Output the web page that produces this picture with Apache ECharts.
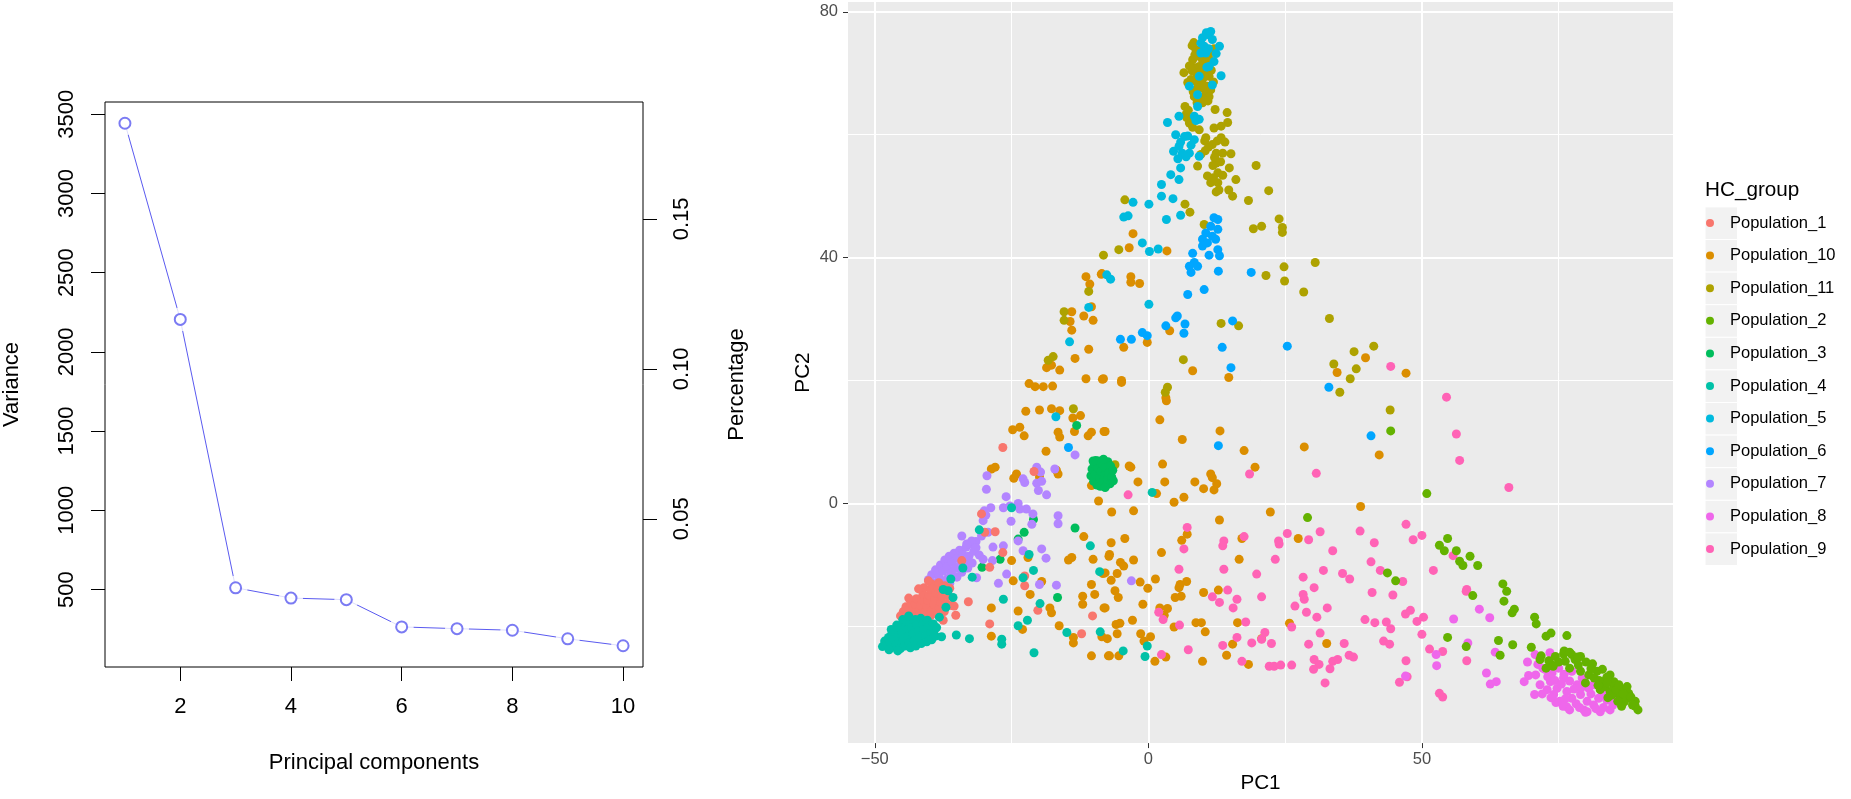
<!DOCTYPE html>
<html>
<head>
<meta charset="utf-8">
<title>PCA</title>
<script src="https://cdn.jsdelivr.net/npm/echarts/dist/echarts.min.js"></script>
<style>
html,body{margin:0;padding:0;background:#fff;}
#main{width:1851px;height:799px;}
</style>
</head>
<body>
<div id="main"></div>
<script>
var FONT = '"Liberation Sans", Arial, Helvetica, sans-serif';

// scree plot
var pcIndex = [1, 2, 3, 4, 5, 6, 7, 8, 9, 10];
var variance = [3443, 2205, 511, 446, 436, 264, 253, 243, 189, 145];
var totalVariance = 18930;
var pcTicks = [2, 4, 6, 8, 10];
var varianceTicks = [500, 1000, 1500, 2000, 2500, 3000, 3500];
var percentTicks = [0.05, 0.10, 0.15];

// scatter axes
var pc1Major = [-50, 0, 50];
var pc1Minor = [-25, 25, 75];
var pc2Major = [0, 40, 80];
var pc2Minor = [-20, 20, 60];

var popNames = ['Population_1','Population_10','Population_11','Population_2','Population_3','Population_4',
  'Population_5','Population_6','Population_7','Population_8','Population_9'];
var popColors = ['#F8766D','#DB8E00','#AEA200','#64B200','#00BD5C','#00C1A7','#00BADE','#00A6FF','#B385FF','#EF67EB','#FF63B6'];

// PC1, PC2 per group
var pop1 = [[-44.8,-17.6],[-44.3,-16.8],[-44.0,-18.0],[-43.7,-17.1],[-43.4,-16.2],[-43.2,-18.2],[-42.9,-17.3],[-42.6,-16.4],[-42.4,-15.5],[-42.2,-18.4],[-41.9,-17.5],[-41.6,-16.6],[-41.4,-15.7],[-41.2,-14.8],[-41.0,-13.7],[-41.1,-18.5],[-40.8,-17.6],[-40.5,-16.7],[-40.3,-15.8],[-40.1,-14.9],[-39.8,-14.0],[-39.6,-13.1],[-39.8,-18.3],[-39.5,-17.3],[-39.2,-16.4],[-39.0,-15.5],[-38.8,-14.6],[-38.5,-13.7],[-38.3,-12.9],[-38.5,-18.0],[-38.2,-17.0],[-37.9,-16.1],[-37.7,-15.2],[-37.4,-14.3],[-37.2,-13.4],[-37.3,-17.6],[-36.9,-16.3],[-36.6,-15.0],[-36.3,-13.8],[-36.0,-16.6],[-43.8,-15.4],[-42.0,-13.9],[-40.2,-12.6],[-45.3,-18.3],[-44.5,-18.8],[-42.7,-19.0],
  [-26.6,9.1],[-20.9,5.2],[-30.5,-1.7],[-29.9,-4.7],[-28.0,-4.6],[-26.6,-8.0],[-29.0,-10.4],[-32.9,-16.0],[-35.2,-18.2],[-37.5,-19.0],[-35.5,-16.7],[-29.0,-19.6],[-22.6,-11.8],[-20.2,-17.4],[-22.6,-13.4],[-12.2,-21.2],[-10.2,-18.3],[-34.1,-9.3]];

var pop10 = [[-8.5,37.4],[-11.4,36.9],[-10.7,35.7],[-10.4,32.0],[-11.8,30.5],[-10.1,29.8],[-14.0,31.2],[-14.3,29.6],[-14.0,28.2],[-10.9,25.1],[-13.4,23.6],[-18.6,22.1],[-16.2,21.7],[-17.7,22.5],[-21.8,19.5],[-20.7,19.0],[-19.2,19.0],[-17.5,19.1],[-11.4,20.3],[-8.2,20.3],
  [-2.8,43.9],[-3.5,41.6],[3.4,41.1],[-8.6,37.3],[-3.2,36.9],[-3.2,36.0],[-1.6,35.8],[3.9,28.1],[-0.2,26.2],[-4.5,25.4],[8.1,21.6],[14.7,20.5],[-8.4,20.2],[-4.9,19.7],[39.7,23.7],[34.5,21.3],[47.1,21.2],[3.2,17.2],
  [-22.4,15.0],[-19.9,15.2],[-17.7,15.4],[-16.2,15.1],[-13.8,13.9],[-12.4,14.3],[-24.8,12.0],[-23.5,12.4],[-22.7,11.0],[-16.5,11.6],[-16.2,10.8],[-13.5,11.7],[-11.0,11.0],[-10.4,11.6],[-7.9,11.7],[-18.7,8.5],[-19.9,4.3],[-16.8,5.4],[-16.5,4.8],[-28.7,5.6],[-28.0,5.9],[-24.6,4.1],[-24.1,4.8],[-10.4,2.9],[-9.1,0.4],
  [-22.0,-8.8],[-11.8,-5.4],[-14.0,-8.8],[-14.6,-9.2],[-25.0,-9.3],[-10.1,-9.1],[-24.7,-12.6],[-23.8,-17.5],[-28.7,-17.0],[-28.7,-21.6],[-23.0,-20.5],[-21.6,-14.8],[-19.5,-12.7],[-18.0,-17.0],[-17.7,-17.8],[-16.3,-19.9],[-13.7,-21.8],[-13.7,-22.7],[-10.4,-24.8],[-7.3,-24.8],[-12.0,-15.1],[-12.0,-16.4],[-10.4,-13.2],[-9.8,-14.8],[-7.9,-17.0],[-7.9,-11.3],[-7.1,-8.3],[-8.5,-21.7],
  [3.3,16.7],[2.1,13.6],[6.2,10.4],[13.1,11.8],[17.5,8.6],[28.5,9.2],[-4.9,20.0],[-8.1,11.7],[-3.5,6.1],[-3.2,5.9],[2.6,6.4],[-1.9,3.5],[3.0,3.5],[19.5,5.9],[8.5,3.5],[10.1,2.4],[11.4,4.8],[11.7,4.2],[12.5,3.2],[12.0,2.2],[1.5,1.6],[4.7,0.2],[6.5,1.0],[42.2,7.9],[38.8,-0.5],[22.3,-1.4],[-6.7,-1.4],[-2.7,-1.2],[13.0,-2.7],[7.1,-5.0],[6.1,-6.0],[2.4,-8.0],[17.1,-5.7],[16.6,-9.1],[27.4,-5.7],
  [-6.8,-6.4],[-4.3,-5.7],[-7.2,-8.6],[-2.7,-9.2],[-5.1,-9.6],[-4.5,-10.2],[-8.3,-11.4],[-6.8,-12.5],[-5.7,-11.4],[-1.5,-12.8],[-0.1,-13.8],[1.3,-12.3],[-6.1,-14.2],[-5.5,-15.3],[-1.0,-16.4],[-8.1,-17.0],[-2.9,-19.0],[-5.9,-19.7],[-5.2,-19.5],[-5.7,-21.2],[-7.5,-22.0],[-7.1,-24.8],[-5.4,-24.8],[-1.4,-21.2],[-0.8,-22.4],[0.4,-21.7],[1.2,-25.7],[3.2,-25.0],[5.8,-13.2],[5.6,-13.7],[7.0,-12.7],[6.0,-15.1],[4.9,-15.3],[2.1,-17.0],[2.9,-18.2],[3.5,-17.1],[4.7,-20.1],[10.1,-14.5],[12.8,-14.1],[8.7,-19.4],[9.7,-19.4],[10.4,-20.9],[9.9,-25.7],[14.3,-24.7],[15.4,-22.9],[16.3,-19.4],[20.7,-22.0],[18.3,-26.2],[25.8,-19.5],[32.6,-22.8]];

var pop11 = [[8.7,73.8],[8.1,72.2],[9.3,71.1],[6.5,70.1],[10.5,70.6],[7.8,69.0],[9.9,69.0],[11.1,69.5],[7.2,68.5],[8.7,67.3],[10.5,66.8],[9.3,65.7],[11.1,66.2],[6.7,64.6],[6.9,63.3],[7.5,61.9],[12.2,64.1],[14.4,63.6],[14.5,62.0],[12.0,61.1],[13.3,61.4],[9.3,60.8],[10.5,59.5],[11.7,58.4],[13.3,59.5],[9.6,56.8],[12.4,57.0],[13.6,57.0],[15.1,56.9],[12.4,55.4],[9.0,54.9],[14.8,54.6],[12.7,53.8],[16.0,52.7],[10.8,53.3],[11.4,52.2],[12.7,52.2],[12.4,50.7],[14.7,51.0],[15.4,50.0],[19.7,55.0],[22.0,50.9],[18.3,49.3],[6.7,48.7],[7.6,47.4],[10.2,45.4],[23.9,46.3],[19.2,44.7],[20.7,45.1],[24.5,44.9],[24.5,44.1],[-4.3,49.4],[-5.4,41.3],[-8.2,40.4],[24.8,38.5],[21.5,37.1],[24.9,36.2],[30.5,39.2],[28.4,34.4],[33.1,30.1],[13.3,29.3],[16.5,28.9],[37.6,24.7],[41.2,25.6],[33.9,22.7],[38.0,21.9],[36.9,20.3],[6.4,23.4],[3.5,18.9],[3.1,18.1],[35.0,18.1],[8.4,70.9],[9.9,72.2],[9.0,68.4],[10.8,67.9],[8.4,66.2],[9.9,65.2],[-10.9,34.5],[-15.4,31.2],[-15.4,29.8],[-18.3,23.3],[-17.4,23.9],[-13.7,15.4],[44.2,15.2],[-6.1,6.3],
  [8.0,74.5],[8.5,73.0],[9.0,72.8],[9.5,73.9],[10.0,72.0],[10.5,71.8],[11.0,72.6],[11.5,70.5],[7.5,71.2],[8.0,70.4],[8.8,70.0],[9.6,70.2],[10.3,69.5],[11.9,68.6],[8.4,68.8],[9.4,67.6],[10.1,68.0],[11.4,67.3],[8.2,67.0],[9.7,66.0],[10.9,65.5],[8.9,65.2],[12.0,74.0],[11.3,73.5],[8.3,75.0],
  [7.0,62.8],[7.8,62.4],[7.3,64.0],[8.1,61.2],[12.6,59.0],[11.0,58.0],[12.1,56.3],[10.4,57.4],[11.8,55.0],[13.2,55.6],[12.9,51.0],[11.9,53.0],[13.6,53.4],[14.0,58.8],[10.3,59.0]];

var pop2 = [[50.9,1.6],[54.7,-5.7],[53.2,-6.8],[54.1,-7.7],[56.3,-7.7],[56.9,-9.4],[57.5,-10.1],[58.8,-8.6],[60.2,-10.1],[43.7,-11.3],[45.2,-12.6],[59.3,-15.0],[64.8,-13.1],[65.5,-14.3],[65.0,-15.9],[66.5,-17.8],[66.9,-17.2],[70.6,-18.5],[70.9,-19.6],[72.7,-21.6],[73.6,-21.1],[76.5,-21.5],[54.7,-21.8],[58.1,-23.3],[64.0,-22.3],[66.6,-23.0],[64.3,-24.7],[70.0,-23.4],[71.8,-24.8],[71.6,-25.4],[72.7,-26.8],[73.8,-26.3],[75.9,-24.5],[77.4,-24.6],[79.0,-24.9],[81.2,-26.1],[76.2,-25.7],[78.6,-26.3],[80.5,-27.9],[82.0,-27.3],[82.9,-29.0],[84.4,-27.9],[85.1,-29.0],[86.3,-30.1],[87.5,-29.8],[87.8,-30.9],[89.0,-32.2],[89.0,-33.0],[87.5,-31.7],[86.3,-31.7],[84.4,-30.6],[83.5,-29.8],[82.6,-30.3],[85.7,-30.9],[79.9,-29.2],[85.1,-29.8],[83.8,-28.3],[79.0,-27.3],[44.3,11.8],[29.1,-2.3],
  [73.2,-25.6],[74.4,-24.9],[75.0,-25.8],[76.0,-24.0],[77.0,-24.2],[78.0,-25.4],[78.5,-25.0],[80.0,-25.8],[80.9,-26.9],[81.5,-28.4],[82.4,-28.8],[83.0,-27.0],[83.9,-29.2],[84.7,-31.2],[85.5,-30.3],[86.0,-29.5],[86.8,-31.0],[87.0,-32.3],[88.2,-31.5],[88.5,-32.8],[89.5,-33.6],[84.0,-31.6],[82.2,-29.6],[86.5,-33.0],[85.8,-32.2],[77.0,-26.8],[74.0,-26.5]];

var pop3 = [[-10.5,4.5],[-10.3,5.6],[-10.0,3.6],[-9.9,6.4],[-9.7,4.8],[-9.4,3.0],[-9.3,5.8],[-9.1,6.9],[-8.9,4.1],[-8.8,2.8],[-8.6,5.2],[-8.4,6.5],[-8.3,3.5],[-8.0,4.6],[-7.9,5.9],[-7.7,2.9],[-7.5,3.9],[-7.4,6.8],[-7.2,5.0],[-7.0,3.2],[-6.9,6.1],[-6.7,4.3],[-6.5,5.4],[-9.6,7.0],[-8.2,7.2],[-10.1,6.9],[-6.4,3.7],[-7.9,2.6],
  [-13.1,12.7],[-21.0,-2.6],[-13.4,-4.0],[-23.8,-5.8],[-27.1,-9.1],[-30.4,-10.4],[-16.6,-15.3],[-22.7,-4.7]];

var pop4 = [[-48.2,-22.4],[-47.8,-23.0],[-47.5,-21.8],[-47.2,-22.6],[-46.8,-23.4],[-46.9,-21.2],[-46.5,-22.1],[-46.2,-23.1],[-46.0,-20.6],[-45.8,-21.6],[-45.6,-22.6],[-45.3,-23.6],[-45.2,-20.0],[-45.0,-21.1],[-44.8,-22.2],[-44.5,-23.2],[-44.4,-19.6],[-44.2,-20.6],[-44.0,-21.7],[-43.7,-22.7],[-43.5,-23.5],[-43.6,-19.2],[-43.3,-20.2],[-43.0,-21.2],[-42.8,-22.3],[-42.5,-23.2],[-42.6,-18.9],[-42.3,-19.8],[-42.0,-20.8],[-41.8,-21.8],[-41.5,-22.8],[-41.6,-18.7],[-41.2,-19.6],[-41.0,-20.5],[-40.7,-21.5],[-40.5,-22.5],[-40.4,-19.0],[-40.0,-20.0],[-39.8,-21.1],[-39.6,-22.2],[-39.3,-19.6],[-39.1,-20.6],[-38.9,-21.6],[-47.0,-20.5],[-46.0,-19.8],[-44.9,-18.9],[-43.8,-18.3],[-48.6,-23.3],[-47.4,-23.8],[-45.8,-24.0],
  [-36.1,-12.3],[-36.6,-14.2],[-35.7,-15.3],[-37.0,-16.9],[-38.2,-18.5],[-38.7,-20.2],[-37.8,-21.7],[-35.1,-21.4],[-32.7,-22.0],[-26.5,-15.6],[-22.9,-12.1],[-21.0,-10.9],[-19.8,-16.3],[-22.1,-19.0],[-23.8,-19.9],[-26.8,-22.1],[-26.8,-22.9],[-20.9,-24.3],[-14.9,-21.0],[-8.8,-20.9],[-8.9,-11.1],[-25.0,-0.7],[-30.9,-4.3],[-21.8,-8.3],[-10.6,-6.9],[-4.6,-24.0],[-0.2,-23.2],[-0.6,-24.9],[0.7,1.8],[-33.9,-10.5],[-32.2,-12.0],[-37.5,-14.0]];

var pop5 = [[10.8,76.3],[9.6,74.9],[11.7,75.5],[13.0,74.4],[10.5,73.3],[12.0,71.9],[9.6,73.3],[13.3,69.6],[11.7,68.1],[7.5,67.9],[9.0,64.6],[5.6,63.0],[3.5,62.0],[9.3,62.5],[5.0,60.0],[7.2,59.8],[8.4,59.2],[5.6,58.1],[6.2,57.0],[7.5,57.0],[9.3,56.5],[5.9,54.6],[4.1,53.5],[5.6,52.7],[2.4,51.9],[2.4,50.0],[4.5,49.6],[0.1,48.7],[-2.8,49.0],[3.3,46.2],[5.9,46.9],[-4.5,46.6],[-3.7,46.8],[0.1,32.4],[-6.9,36.5],[1.8,41.4],[0.2,41.0],[-1.1,42.4],[10.2,74.4],[11.1,71.1],[9.3,69.5],[8.4,63.0],[-7.6,37.2],[-10.9,31.9],[-14.4,26.3],[-16.9,14.1],
  [10.6,76.6],[11.4,76.8],[11.0,74.0],[9.9,75.8],[12.4,73.2],[10.7,71.0],[9.0,66.5],[8.7,62.3],[6.6,59.7],[5.9,58.8],[7.8,58.3],[6.9,56.4],[5.4,56.1],[4.6,57.3]];

var pop6 = [[12.0,46.5],[12.7,46.2],[11.4,45.1],[12.7,44.6],[10.5,44.0],[11.7,43.5],[9.9,43.0],[10.8,42.4],[12.3,43.0],[9.9,41.9],[12.7,41.3],[13.0,40.3],[11.1,40.4],[8.1,40.7],[8.4,39.2],[7.5,38.6],[9.0,38.6],[7.8,37.6],[12.8,37.8],[18.8,37.6],[7.2,34.0],[10.2,34.8],[5.3,30.5],[5.0,30.2],[6.7,29.2],[6.5,27.7],[3.2,28.9],[-1.1,27.8],[-0.2,27.3],[-5.1,26.7],[-3.1,26.7],[13.5,25.4],[15.4,29.7],[25.4,25.6],[15.1,22.1],[33.0,18.9],[12.8,9.4],[40.7,11.0],[-14.6,9.1]];

var pop7 = [[-40.2,-12.4],[-39.6,-11.6],[-39.0,-12.9],[-38.9,-10.8],[-38.3,-11.9],[-38.0,-10.0],[-37.6,-12.6],[-37.5,-11.0],[-37.2,-9.2],[-36.8,-10.3],[-36.7,-12.2],[-36.4,-8.6],[-36.1,-11.4],[-35.9,-9.6],[-35.5,-8.1],[-35.3,-10.6],[-35.0,-12.0],[-34.9,-8.9],[-34.5,-7.6],[-34.4,-10.0],[-34.1,-11.2],[-33.9,-8.3],[-33.5,-9.4],[-33.3,-7.1],[-33.0,-10.5],[-32.8,-8.6],[-32.4,-6.6],[-32.2,-9.7],[-31.9,-7.8],[-31.5,-6.2],[-31.4,-12.1],[-30.9,-8.4],[-30.5,-5.3],[-36.3,-13.0],[-38.7,-13.5],[-34.1,-5.3],[-32.3,-6.1],[-33.2,-6.6],[-31.5,-7.2],
  [-13.4,7.9],[-20.4,5.9],[-19.7,5.1],[-17.1,5.6],[-29.5,4.5],[-29.6,2.3],[-22.9,4.0],[-22.6,3.4],[-20.4,3.3],[-19.5,3.6],[-20.1,2.1],[-18.6,1.4],[-26.0,1.1],[-26.5,-0.7],[-28.8,-0.7],[-30.0,-1.2],[-25.3,-0.4],[-23.8,0.0],[-23.5,-0.9],[-22.3,-0.9],[-25.1,-2.9],[-16.5,-2.0],[-16.5,-3.3],[-29.7,-1.9],[-30.2,-2.8],[-29.3,-4.7],[-21.3,-3.4],[-21.1,-1.7],[-28.4,-7.1],[-26.5,-6.9],[-23.8,-6.1],[-22.9,-7.7],[-19.5,-7.4],[-18.7,-8.9],[-28.5,-9.3],[-30.2,-9.1],[-25.9,-11.5],[-27.4,-13.0],[-19.9,-13.2],[-16.8,-13.3],[-3.1,-12.6]];

var pop8 = [[55.8,-18.8],[60.5,-17.2],[62.4,-18.6],[58.4,-22.7],[52.6,-24.6],[52.7,-26.4],[63.4,-24.2],[61.8,-27.6],[62.5,-29.4],[63.6,-29.0],[69.3,-25.8],[69.5,-28.0],[68.7,-29.0],[70.7,-24.6],[73.4,-24.3],[70.6,-31.1],[72.1,-26.8],[71.6,-29.5],[73.5,-29.0],[74.7,-30.1],[75.9,-28.4],[76.5,-30.6],[77.4,-31.7],[75.2,-32.2],[79.0,-31.1],[80.2,-32.2],[79.6,-33.6],[81.4,-32.8],[82.6,-33.9],[84.4,-33.6],[83.8,-32.0],[78.4,-29.5],[80.5,-30.1],[82.3,-31.7],[85.1,-32.0],[75.0,-26.8],[77.4,-27.3],[79.3,-28.4],[81.4,-29.5],[82.9,-30.6],[74.1,-31.1],[72.9,-30.3],[80.2,-33.9],[76.5,-33.1],[47.0,-28.1],
  [72.5,-27.0],[73.0,-28.2],[73.8,-27.6],[74.3,-28.8],[75.5,-29.4],[76.0,-27.8],[77.0,-28.9],[77.8,-30.2],[78.2,-32.6],[79.1,-30.0],[76.2,-31.8],[75.8,-33.0],[74.5,-32.4],[73.6,-31.6],[78.8,-33.2],[80.9,-31.0],[81.8,-33.4],[83.2,-33.2],[77.0,-33.6],[79.9,-34.0],[71.2,-26.2],[70.8,-27.9],[72.0,-31.0],[84.9,-32.8],[83.0,-31.2]];

var pop9 = [[18.5,4.8],[30.7,4.9],[-3.7,1.4],[7.1,-3.9],[6.5,-7.4],[13.8,-6.1],[13.6,-6.9],[17.5,-5.4],[25.4,-4.9],[23.8,-6.1],[23.9,-6.6],[29.3,-5.9],[31.4,-4.6],[33.7,-7.7],[23.2,-9.1],[38.7,-4.5],[41.3,-6.4],[40.7,-9.5],[13.8,-10.7],[19.8,-11.5],[5.6,-10.7],[2.4,-24.6],[1.9,-17.7],[2.7,-18.9],[5.7,-19.8],[11.7,-15.2],[13.0,-16.1],[14.5,-14.1],[16.2,-15.6],[15.5,-17.0],[7.3,-23.8],[13.6,-23.1],[16.2,-21.8],[17.8,-19.3],[18.9,-22.7],[20.7,-22.1],[21.3,-21.0],[22.5,-22.8],[17.1,-25.7],[22.1,-26.5],[23.0,-26.5],[24.2,-26.3],[26.2,-26.3],[20.7,-15.2],[26.8,-16.7],[28.9,-17.7],[28.3,-14.8],[28.5,-15.6],[30.3,-13.7],[28.3,-12.0],[26.2,-20.1],[29.3,-22.9],[30.8,-18.5],[31.4,-21.1],[32.7,-17.0],[32.0,-10.9],[35.5,-11.4],[36.8,-12.3],[40.9,-14.5],[39.6,-18.9],[41.4,-19.4],[35.8,-22.8],[36.7,-24.7],[37.5,-25.0],[30.3,-25.4],[31.2,-26.2],[30.2,-27.0],[33.7,-25.7],[34.6,-25.4],[33.2,-26.9],[32.3,-29.2],
  [44.3,22.3],[54.5,17.3],[56.3,11.3],[56.9,7.0],[65.9,2.6],[47.1,-3.4],[48.4,-5.9],[50.0,-5.2],[52.1,-10.9],[46.5,-12.7],[44.7,-14.9],[42.4,-10.9],[47.0,-18.0],[47.9,-17.4],[49.1,-19.2],[50.3,-18.5],[50.0,-21.3],[43.5,-19.3],[44.3,-20.4],[43.0,-22.4],[44.1,-22.9],[51.4,-23.7],[53.8,-24.1],[47.1,-25.6],[47.3,-28.2],[45.9,-29.1],[53.2,-30.9],[53.8,-31.5],[58.2,-25.6],[55.7,-8.5],[58.1,-14.3],[58.2,-14.0]];

var popData = {
  'Population_1': pop1, 'Population_10': pop10, 'Population_11': pop11, 'Population_2': pop2,
  'Population_3': pop3, 'Population_4': pop4, 'Population_5': pop5, 'Population_6': pop6,
  'Population_7': pop7, 'Population_8': pop8, 'Population_9': pop9
};
// order the groups are painted in
var drawOrder = ['Population_10','Population_11','Population_5','Population_6','Population_9','Population_8',
  'Population_2','Population_3','Population_7','Population_1','Population_4'];

var screeColor = '#5A5AF0';
var screeData = pcIndex.map(function(pc, i){ return [pc, variance[i]]; });

function minus(v){ return String(v).replace('-', '\u2212'); }
function plain(v){ return String(v); }

var myChart = echarts.init(document.getElementById('main'), null, {renderer: 'canvas'});

var series = [
  {type: 'line', xAxisIndex: 0, yAxisIndex: 0, data: screeData, showSymbol: false, symbol: 'none',
   lineStyle: {color: screeColor, width: 1}, z: 2, silent: true},
  // white disc to leave a gap between line and circle, like type="b"
  {type: 'scatter', xAxisIndex: 0, yAxisIndex: 0, data: screeData, symbolSize: 24,
   itemStyle: {color: '#fff'}, z: 3, silent: true},
  {type: 'scatter', xAxisIndex: 0, yAxisIndex: 0, data: screeData, symbol: 'emptyCircle', symbolSize: 11,
   itemStyle: {color: screeColor, borderWidth: 1.2}, z: 4, silent: true}
];
drawOrder.forEach(function(name){
  series.push({
    name: name, type: 'scatter', xAxisIndex: 1, yAxisIndex: 2,
    data: popData[name], symbolSize: 9,
    itemStyle: {color: popColors[popNames.indexOf(name)], opacity: 1},
    z: 5
  });
});

// legend key backgrounds
var keyTop = 206.9, keyStep = 32.6;
var keyRects = popNames.map(function(n, i){
  return {type: 'rect', silent: true, z: 0,
    shape: {x: 1705, y: keyTop + i * keyStep, width: 32.6, height: keyStep},
    style: {fill: '#F2F2F2', stroke: '#fff', lineWidth: 1}};
});

var noLine = {show: false, onZero: false};

var option = {
  animation: false,
  backgroundColor: '#fff',
  textStyle: {fontFamily: FONT},
  title: {
    text: 'HC_group', left: 1705, top: 180, padding: 0,
    textStyle: {fontSize: 20.7, fontWeight: 'normal', color: '#000', fontFamily: FONT}
  },
  legend: {
    data: popNames, orient: 'vertical', left: 1706, top: 213, padding: 0,
    itemWidth: 30, itemHeight: 8, itemGap: 12.6, icon: 'circle', selectedMode: false,
    textStyle: {fontSize: 16.5, color: '#000', lineHeight: 20, fontFamily: FONT}
  },
  graphic: keyRects,
  grid: [
    {left: 105, top: 102, width: 538, height: 565, show: true, borderColor: '#000', borderWidth: 1, backgroundColor: 'transparent'},
    {left: 848, top: 2, width: 825, height: 745, show: true, borderWidth: 0, backgroundColor: '#EBEBEB'}
  ],
  xAxis: [
    {gridIndex: 0, type: 'value', min: 0.64, max: 10.36,
     axisLine: noLine,
     axisTick: {show: true, length: 14, customValues: pcTicks, lineStyle: {color: '#000', width: 1}},
     axisLabel: {customValues: pcTicks, fontSize: 22, color: '#000', margin: 29, formatter: plain, fontFamily: FONT},
     splitLine: {show: false},
     name: 'Principal components', nameLocation: 'middle', nameGap: 85,
     nameTextStyle: {fontSize: 22, color: '#000', fontFamily: FONT}},
    {gridIndex: 1, type: 'value', min: -54.9, max: 95.9, position: 'bottom',
     axisLine: noLine,
     axisTick: {show: true, length: 5, customValues: pc1Major, lineStyle: {color: '#333', width: 1}},
     axisLabel: {customValues: pc1Major, fontSize: 16.5, color: '#4D4D4D', margin: 8, formatter: minus, fontFamily: FONT},
     splitLine: {show: true, lineStyle: {color: '#fff', width: 2}},
     name: 'PC1', nameLocation: 'middle', nameGap: 29,
     nameTextStyle: {fontSize: 20.7, color: '#000', fontFamily: FONT}},
    {gridIndex: 1, type: 'value', min: -54.9, max: 95.9, position: 'top',
     axisLine: noLine, axisLabel: {show: false},
     axisTick: {show: false, customValues: pc1Minor},
     splitLine: {show: true, lineStyle: {color: '#fff', width: 1}}}
  ],
  yAxis: [
    {gridIndex: 0, type: 'value', min: 11, max: 3577,
     axisLine: noLine,
     axisTick: {show: true, length: 14, customValues: varianceTicks, lineStyle: {color: '#000', width: 1}},
     axisLabel: {customValues: varianceTicks, rotate: 90, fontSize: 22, color: '#000', margin: 27, formatter: plain, fontFamily: FONT},
     splitLine: {show: false},
     name: 'Variance', nameLocation: 'middle', nameRotate: 90, nameGap: 82,
     nameTextStyle: {fontSize: 22, color: '#000', fontFamily: FONT}},
    {gridIndex: 0, type: 'value', position: 'right', min: 11 / totalVariance, max: 3577 / totalVariance,
     axisLine: noLine,
     axisTick: {show: true, length: 14, customValues: percentTicks, lineStyle: {color: '#000', width: 1}},
     axisLabel: {customValues: percentTicks, rotate: 90, fontSize: 22, color: '#000', margin: 28,
       formatter: function(v){ return v.toFixed(2); }, fontFamily: FONT},
     splitLine: {show: false},
     name: 'Percentage', nameLocation: 'middle', nameRotate: 90, nameGap: 83,
     nameTextStyle: {fontSize: 22, color: '#000', fontFamily: FONT}},
    {gridIndex: 1, type: 'value', min: -39.0, max: 81.6, position: 'left',
     axisLine: noLine,
     axisTick: {show: true, length: 5, customValues: pc2Major, lineStyle: {color: '#333', width: 1}},
     axisLabel: {customValues: pc2Major, fontSize: 16.5, color: '#4D4D4D', margin: 10, formatter: minus, fontFamily: FONT},
     splitLine: {show: true, lineStyle: {color: '#fff', width: 2}},
     name: 'PC2', nameLocation: 'middle', nameRotate: 90, nameGap: 34,
     nameTextStyle: {fontSize: 20.7, color: '#000', fontFamily: FONT}},
    {gridIndex: 1, type: 'value', min: -39.0, max: 81.6, position: 'right',
     axisLine: noLine, axisLabel: {show: false},
     axisTick: {show: false, customValues: pc2Minor},
     splitLine: {show: true, lineStyle: {color: '#fff', width: 1}}}
  ],
  series: series
};
myChart.setOption(option);
</script>
</body>
</html>
